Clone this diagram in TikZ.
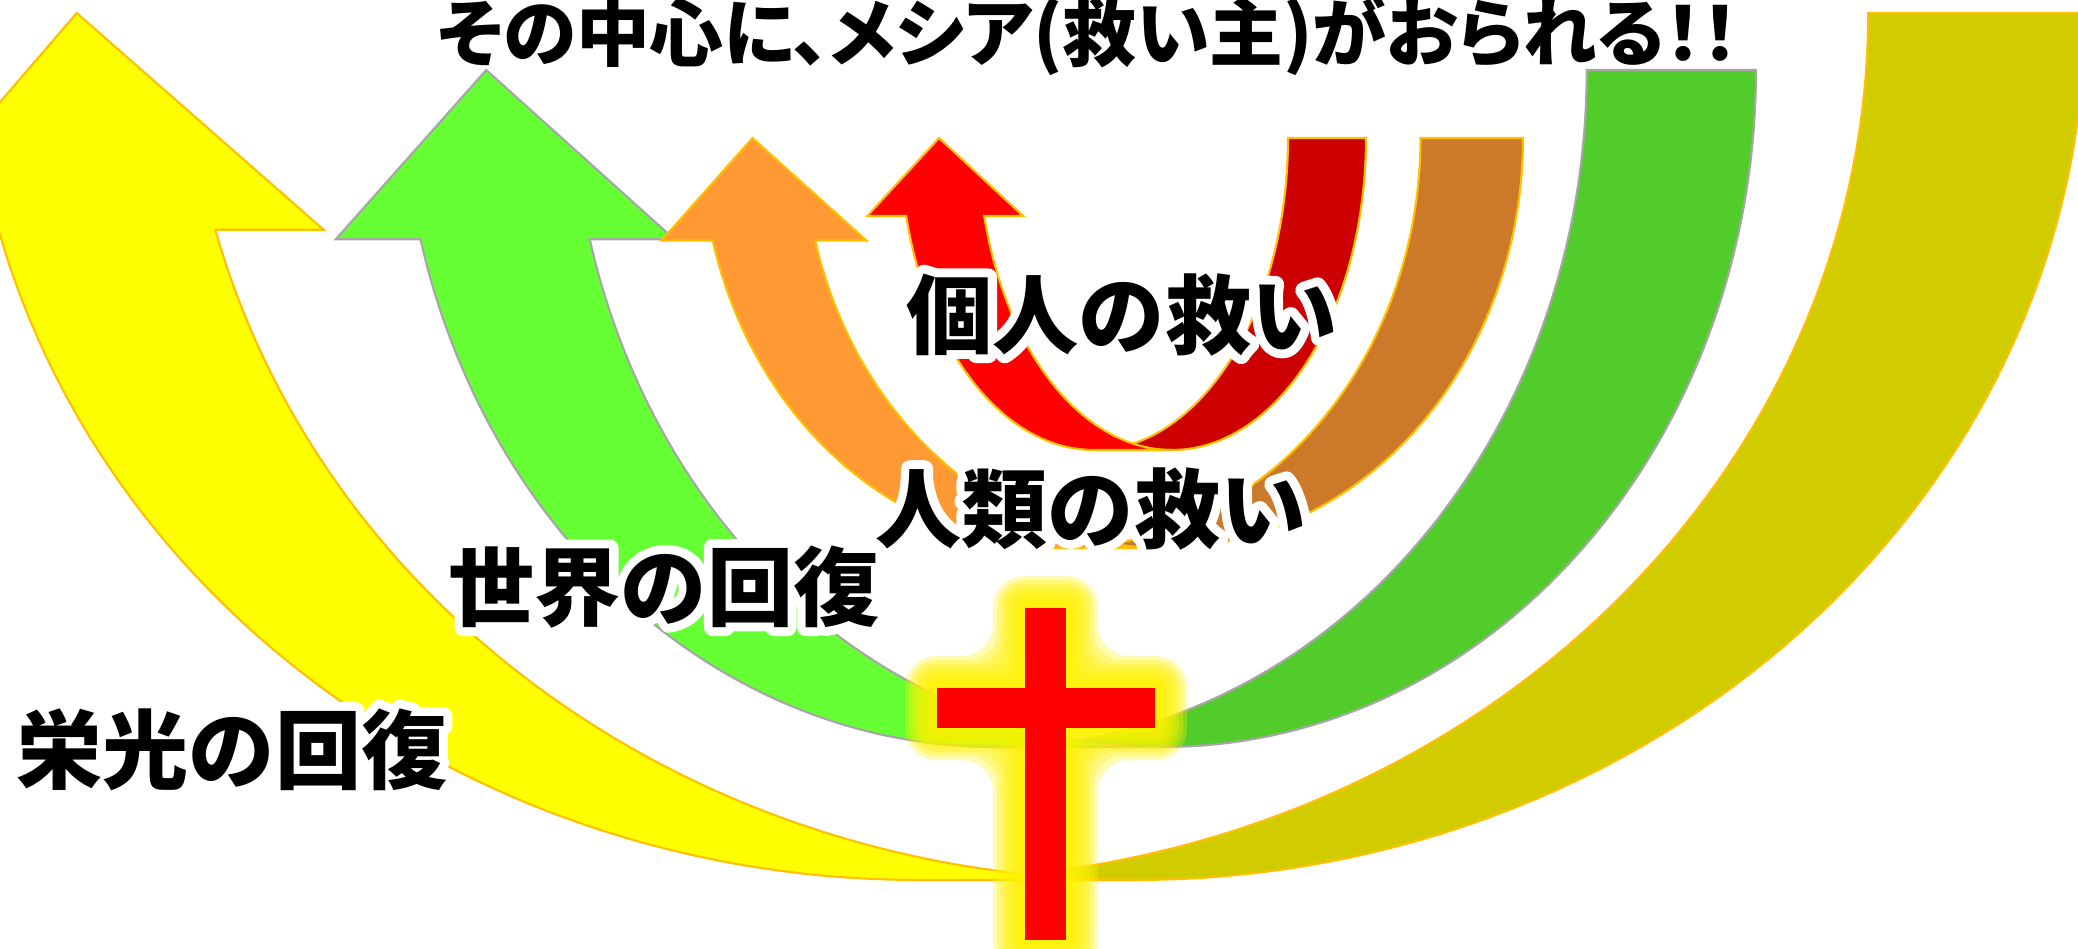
\documentclass[tikz,border=0pt]{standalone}
\usepackage{fontspec}
\newfontfamily\jp{Noto Sans CJK JP}
\newfontfamily\jpp{Noto Sans CJK JP}[RawFeature={+palt}]
\definecolor{ylwF}{RGB}{255,255,0}
\definecolor{ylwB}{RGB}{208,204,0}
\definecolor{grnF}{RGB}{102,255,51}
\definecolor{grnB}{RGB}{82,204,43}
\definecolor{orgF}{RGB}{255,153,51}
\definecolor{orgB}{RGB}{204,122,41}
\definecolor{redF}{RGB}{255,0,0}
\definecolor{redB}{RGB}{204,0,0}
\definecolor{goldedge}{RGB}{255,192,0}
\definecolor{grayedge}{RGB}{166,166,166}
% white halo behind a text: the same text stroked in white, then filled in black
\newcommand{\glowtext}[1]{\leavevmode\rlap{\special{pdf:literal direct 1 Tr 1 1 1 RG 5 w 1 j 1 J}#1\special{pdf:literal direct 0 Tr 0 0 0 RG 1 w 0 j 0 J}}#1}
\tikzset{
  ribbonedge/.style={line width=0.6pt, line join=miter},
  bigtext/.style={inner sep=0pt, anchor=base, font=\jp\bfseries\fontsize{24.5pt}{29pt}\selectfont},
  toptext/.style={inner sep=0pt, anchor=base, font=\jpp\bfseries\fontsize{21pt}{25pt}\selectfont},
  crossbar/.style={fill={rgb,255:red,255;green,0;blue,0}},
}
\newcommand{\drawribbon}[7]{%
  \pgfmathsetmacro{\rL}{#1}%
  \pgfmathsetmacro{\rT}{#2}%
  \pgfmathsetmacro{\rW}{#3}%
  \pgfmathsetmacro{\rH}{#4}%
  \pgfmathsetmacro{\rth}{\rH/4}%
  \pgfmathsetmacro{\rwR}{\rW/2-3*\rH/16}%
  \pgfmathsetmacro{\rXr}{\rL+\rW-\rwR}%
  \pgfmathsetmacro{\rXl}{\rXr-\rth}%
  \pgfmathsetmacro{\rYa}{\rT+\rth}%
  \pgfmathsetmacro{\rdx}{\rwR*0.968246}%
  \pgfmathsetmacro{\rdh}{\rH/8}%
  \path[fill=#6, draw=#7, ribbonedge]
    plot[domain=0:90,samples=70] ({\rXr+\rwR*cos(\x)},{\rT+\rH*sin(\x)})
    -- plot[domain=90:0,samples=70] ({\rXl+\rwR*cos(\x)},{\rT+\rH*sin(\x)})
    -- cycle;
  \path[fill=#5, draw=#7, ribbonedge]
    (\rL+\rth,\rT) -- (\rXr-\rdx+\rdh,\rYa)
    -- plot[domain=165.5225:90,samples=90] ({\rXr+\rwR*cos(\x)},{\rT+\rH*sin(\x)})
    -- plot[domain=90:165.5225,samples=90] ({\rXl+\rwR*cos(\x)},{\rT+\rH*sin(\x)})
    -- (\rXl-\rdx-\rdh,\rYa) -- cycle;
}
\begin{document}
\begin{tikzpicture}[x=0.01cm,y=-0.01cm]
\useasboundingbox (0,0) rectangle (2078,948);
\clip (0,0) rectangle (2078,948);
\fill[white] (0,0) rectangle (2078,948);
% ribbons: L, top, width, height
\drawribbon{-140}{13}{2225}{867}{ylwF}{ylwB}{goldedge}
\drawribbon{317}{70}{1439}{677}{grnF}{grnB}{grayedge}
\drawribbon{650}{138}{873}{410}{orgF}{orgB}{goldedge}
\drawribbon{861}{138}{505}{312}{redF}{redB}{goldedge}
% cross glow
\foreach \d in {32,28,24,20,16,12,8,4} {
  \fill[yellow, opacity=0.3, rounded corners={0.28pt*\d}]
    (1025-\d,608-\d) -- (1066+\d,608-\d) -- (1066+\d,688-\d) -- (1155+\d,688-\d)
    -- (1155+\d,728+\d) -- (1066+\d,728+\d) -- (1066+\d,940+\d) -- (1025-\d,940+\d)
    -- (1025-\d,728+\d) -- (937-\d,728+\d) -- (937-\d,688-\d) -- (1025-\d,688-\d) -- cycle;
}
% cross
\fill[crossbar] (1025,608) rectangle (1066,940);
\fill[crossbar] (937,688) rectangle (1155,728);
% labels
\node[toptext] (title) at (1088,60) {その中心に、メシア(救い主)がおられる！！};
\node[bigtext] (kojin) at (1122,347) {\glowtext{個人の救い}};
\node[bigtext] (jinrui) at (1091,541) {\glowtext{人類の救い}};
\node[bigtext] (sekai) at (664,619) {\glowtext{世界の回復}};
\node[bigtext] (eiko) at (232,782) {\glowtext{栄光の回復}};
\end{tikzpicture}
\end{document}
